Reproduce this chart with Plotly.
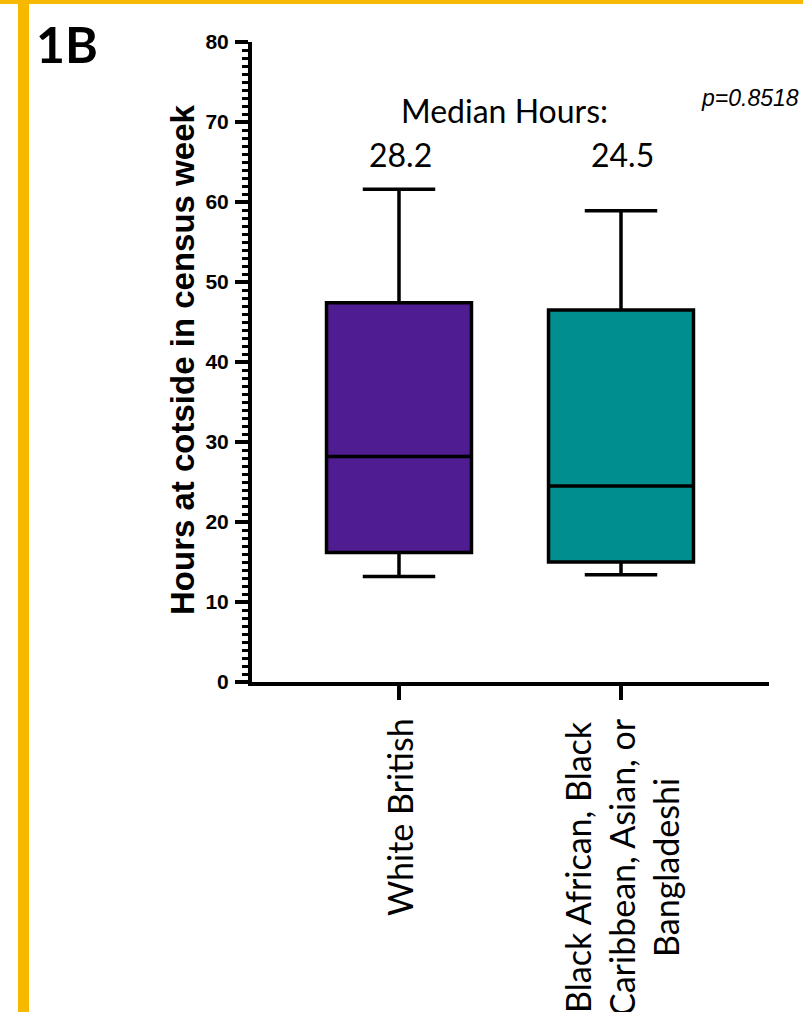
import plotly.graph_objects as go

# ---- data ----
categories = ["White British", "Black African, Black<br>Caribbean, Asian, or<br>Bangladeshi"]
q1 = [16.2, 15.0]
medians = [28.2, 24.5]
q3 = [47.4, 46.5]
lower_whisker = [13.2, 13.4]
upper_whisker = [61.6, 58.9]
median_labels = ["28.2", "24.5"]
box_colors = ["#4F1C91", "#008E8E"]
y_tick_vals = [0, 10, 20, 30, 40, 50, 60, 70, 80]
panel_label = "1B"
median_header = "Median Hours:"
p_value_text = "p=0.8518"
y_title = "Hours at cotside in census week"

# ---- layout geometry (pixels) ----
W, H = 803, 1012
L, R, T, B = 252, 769, 42, 682
pw, ph = R - L, B - T
CX = [399, 621]  # pixel centres of the categories


def px_x(px):
    return (px - L) / pw


def px_y(py):
    return (B - py) / ph


fig = go.Figure()
for i in range(len(categories)):
    fig.add_trace(go.Box(
        x=[i], q1=[q1[i]], median=[medians[i]], q3=[q3[i]],
        lowerfence=[lower_whisker[i]], upperfence=[upper_whisker[i]],
        fillcolor=box_colors[i], line=dict(color="black", width=3.5),
        width=0.653, whiskerwidth=0.5, boxpoints=False,
        showlegend=False, hoverinfo="skip",
    ))

YEL = "#F7B900"
shapes = [
    dict(type="rect", xref="paper", yref="paper", x0=px_x(-2), x1=px_x(W + 2),
         y0=px_y(4), y1=px_y(-2), fillcolor=YEL, line=dict(width=0), layer="above"),
    dict(type="rect", xref="paper", yref="paper", x0=px_x(18), x1=px_x(29),
         y0=px_y(H + 2), y1=px_y(-2), fillcolor=YEL, line=dict(width=0), layer="above"),
]

annotations = []
annotations.append(dict(text=f"<b>{panel_label}</b>", xref="paper", yref="paper",
                        x=px_x(34), y=px_y(44), xanchor="left", yanchor="middle",
                        showarrow=False, font=dict(family="Lato", size=50, color="black")))
annotations.append(dict(text=median_header, xref="paper", yref="paper", x=px_x(504),
                        y=px_y(111), xanchor="center", yanchor="middle", showarrow=False,
                        font=dict(family="Lato", size=32, color="black")))
for i, lab in enumerate(median_labels):
    annotations.append(dict(text=lab, xref="paper", yref="paper", x=px_x(CX[i] + 1),
                            y=px_y(154), xanchor="center", yanchor="middle", showarrow=False,
                            font=dict(family="Lato", size=32, color="black")))
annotations.append(dict(text=f"<i>{p_value_text}</i>", xref="paper", yref="paper",
                        x=px_x(801), y=px_y(98), xanchor="right", yanchor="middle",
                        showarrow=False,
                        font=dict(family="Liberation Sans", size=23, color="black")))
annotations.append(dict(text=f"<b>{y_title}</b>", xref="paper", yref="paper",
                        x=px_x(182), y=px_y(360), xanchor="center", yanchor="middle",
                        textangle=-90, showarrow=False,
                        font=dict(family="Liberation Sans", size=33, color="black")))
for i, cat in enumerate(categories):
    annotations.append(dict(text=cat, xref="paper", yref="paper", x=px_x(CX[i]), y=px_y(716),
                            xanchor="center", yanchor="top", textangle=-90,
                            align="center", showarrow=False,
                            font=dict(family="Lato", size=34, color="black")))

fig.update_layout(
    width=W, height=H, autosize=False,
    margin=dict(l=L, r=W - R, t=T, b=H - B, pad=0),
    paper_bgcolor="white", plot_bgcolor="white",
    boxmode="overlay",
    shapes=shapes, annotations=annotations,
    xaxis=dict(range=[(L - CX[0]) / (CX[1] - CX[0]), (R - CX[0]) / (CX[1] - CX[0])],
               tickvals=[0, 1],
               showticklabels=False, ticks="outside", ticklen=14, tickwidth=3.5,
               tickcolor="black", showline=True, linecolor="black", linewidth=4,
               showgrid=False, zeroline=False, fixedrange=True),
    yaxis=dict(range=[0, 80], tickvals=y_tick_vals, ticks="outside", ticklen=13,
               tickwidth=3.5, tickcolor="black", showline=True, linecolor="black",
               linewidth=4, showgrid=False, zeroline=False,
               tickfont=dict(family="Liberation Sans", size=21, color="black", weight="bold"),
               ticklabelstandoff=2,
               minor=dict(dtick=1, ticks="outside", ticklen=6, tickwidth=2.5,
                          tickcolor="black", showgrid=False)),
)

fig.write_html("out.html", config={"displayModeBar": False},
               post_script="document.body.style.margin='0';document.body.style.overflow='hidden';")
